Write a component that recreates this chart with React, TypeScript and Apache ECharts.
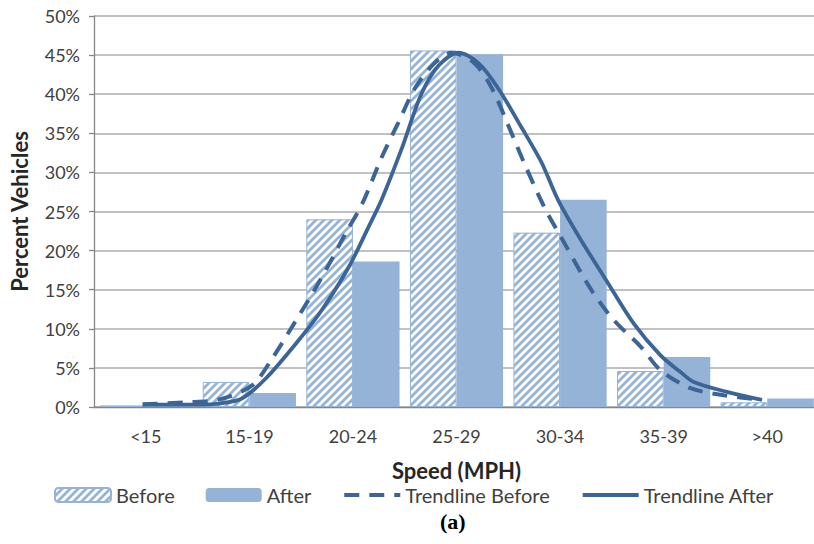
import React, { useEffect, useRef } from "react";
import * as echarts from "echarts";

const categories = ["<15", "15-19", "20-24", "25-29", "30-34", "35-39", ">40"];
const beforeValues = [0.2, 3.2, 24.0, 45.6, 22.3, 4.6, 0.6];
const afterValues = [0.3, 1.8, 18.6, 45.1, 26.5, 6.4, 1.1];

// trendline positions in category units (0.5 = centre of "<15")
const trendBeforeX = [0.47, 0.9, 1.22, 1.53, 1.72, 1.91, 2.13, 2.3, 2.42, 2.59, 2.78, 2.94, 3.1, 3.29, 3.45, 3.67, 3.84, 4.0, 4.15, 4.35, 4.54, 4.8, 5.02, 5.28, 5.47, 5.76, 6.08, 6.45];
const trendBeforeY = [0.35, 0.6, 1.0, 2.8, 6.2, 10.2, 15, 19, 22, 26, 32, 36.4, 40.8, 44, 45.3, 44, 40.8, 36, 31.3, 25.5, 21, 15, 11.1, 7.7, 4.7, 2.4, 1.5, 0.9];
const trendAfterX = [0.47, 0.98, 1.24, 1.43, 1.67, 1.98, 2.2, 2.46, 2.65, 2.78, 2.97, 3.16, 3.33, 3.52, 3.71, 3.9, 4.13, 4.32, 4.48, 4.7, 4.96, 5.21, 5.47, 5.66, 5.79, 6.12, 6.45];
const trendAfterY = [0.3, 0.3, 0.5, 1.1, 3.8, 8.6, 12.4, 17.9, 23, 26.6, 33, 40, 43.7, 45.3, 44, 40.8, 35.7, 31.3, 26.5, 21.4, 15.9, 10.7, 6.6, 4.5, 3.2, 1.9, 0.9];

const LIGHT = "#95B3D7";
const DARK = "#3B6597";
const FONT = "Lato";

function makeHatch() {
  const s = 8;
  const c = document.createElement("canvas");
  c.width = s;
  c.height = s;
  const ctx = c.getContext("2d")!;
  ctx.fillStyle = "#ffffff";
  ctx.fillRect(0, 0, s, s);
  ctx.strokeStyle = LIGHT;
  ctx.lineWidth = 2.8;
  ctx.beginPath();
  ctx.moveTo(-2, s + 2);
  ctx.lineTo(s + 2, -2);
  ctx.moveTo(-s, s);
  ctx.lineTo(s, -s);
  ctx.moveTo(0, 2 * s);
  ctx.lineTo(2 * s, 0);
  ctx.stroke();
  return c;
}

const hiddenSymbol = { color: "rgba(0,0,0,0)", borderWidth: 0, opacity: 0 };

export default function App() {
  const ref = useRef<HTMLDivElement>(null);
  useEffect(() => {
    if (!ref.current) return;
    const chart = echarts.init(ref.current, null, { renderer: "svg" });
    const hatch = makeHatch();
    const pattern: any = { image: hatch, repeat: "repeat", imageWidth: 8, imageHeight: 8 };
    chart.setOption({
      animation: false,
      backgroundColor: "#ffffff",
      textStyle: { fontFamily: FONT },
      grid: { left: 91, top: 16, width: 728, height: 391 },
      legend: {
        left: 49,
        top: 480,
        itemWidth: 56,
        itemHeight: 14,
        itemGap: 31,
        textStyle: { fontSize: 20, color: "#404040", fontFamily: FONT },
        data: [
          "Before",
          "After",
          { name: "Trendline Before", itemStyle: hiddenSymbol, lineStyle: { width: 4, type: [15, 10] } },
          { name: "Trendline After", itemStyle: hiddenSymbol, lineStyle: { width: 4 } },
        ],
      },
      xAxis: [
        {
          type: "category",
          data: categories,
          axisLine: { lineStyle: { color: "#868686", width: 1.3 } },
          axisTick: { length: 6, lineStyle: { color: "#868686", width: 1.3 } },
          axisLabel: { fontSize: 18, color: "#404040", margin: 20, fontFamily: FONT },
          name: "Speed (MPH)",
          nameLocation: "middle",
          nameGap: 52,
          nameTextStyle: { fontSize: 22, fontWeight: "bold", color: "#262626", fontFamily: FONT },
        },
        { type: "value", min: 0, max: 7, show: false },
      ],
      yAxis: {
        type: "value",
        min: 0,
        max: 50,
        interval: 5,
        axisLine: { show: true, lineStyle: { color: "#868686", width: 1.3 } },
        axisTick: { show: true, length: 5, lineStyle: { color: "#868686", width: 1.3 } },
        axisLabel: { formatter: "{value}%", fontSize: 18, color: "#404040", margin: 14, fontFamily: FONT },
        splitLine: { lineStyle: { color: "#ADADAD", width: 1.5 } },
        name: "Percent Vehicles",
        nameLocation: "middle",
        nameGap: 64,
        nameTextStyle: { fontSize: 22, fontWeight: "bold", color: "#262626", fontFamily: FONT },
      },
      series: [
        {
          name: "Before",
          type: "bar",
          data: beforeValues,
          barGap: "0%",
          barCategoryGap: "10%",
          itemStyle: { color: pattern, borderColor: LIGHT, borderWidth: 1 },
        },
        {
          name: "After",
          type: "bar",
          data: afterValues,
          itemStyle: { color: LIGHT },
        },
        {
          name: "Trendline Before",
          type: "line",
          xAxisIndex: 1,
          data: trendBeforeX.map((x, i) => [x, trendBeforeY[i]]),
          smooth: 0.3,
          symbol: "none",
          showSymbol: false,
          itemStyle: { color: DARK },
          lineStyle: { color: DARK, width: 4, type: [15, 10] },
        },
        {
          name: "Trendline After",
          type: "line",
          xAxisIndex: 1,
          data: trendAfterX.map((x, i) => [x, trendAfterY[i]]),
          smooth: 0.3,
          symbol: "none",
          showSymbol: false,
          itemStyle: { color: DARK },
          lineStyle: { color: DARK, width: 3.8 },
        },
      ],
      graphic: [
        {
          type: "text",
          left: 440,
          top: 510,
          style: { text: "(a)", font: "bold 22px 'Liberation Serif', serif", fill: "#000" },
        },
      ],
    });
    return () => chart.dispose();
  }, []);
  return (
    <div style={{ position: "absolute", left: 0, top: 0, width: 814, height: 544, overflow: "hidden", background: "#fff" }}>
      <div ref={ref} style={{ width: 822, height: 544 }} />
    </div>
  );
}
